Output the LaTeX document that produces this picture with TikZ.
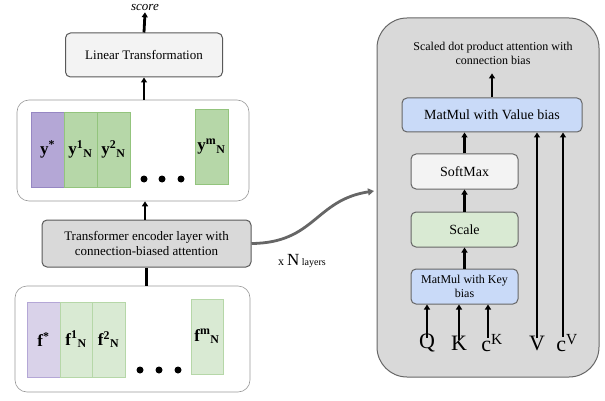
\documentclass[tikz,border=0pt]{standalone}
\usepackage{fontspec}
\setmainfont{Liberation Serif}
\usetikzlibrary{arrows.meta}
\definecolor{diagcolor0001}{RGB}{180,167,214}
\definecolor{diagcolor0002}{RGB}{150,135,195}
\definecolor{diagcolor0003}{RGB}{182,215,168}
\definecolor{diagcolor0004}{RGB}{147,196,125}
\definecolor{diagcolor0005}{RGB}{217,210,233}
\definecolor{diagcolor0006}{RGB}{217,234,211}
\definecolor{diagcolor0007}{RGB}{217,217,217}
\definecolor{diagcolor0008}{RGB}{89,89,89}
\definecolor{diagcolor0009}{RGB}{201,218,248}
\definecolor{diagcolor0010}{RGB}{243,243,243}
\definecolor{diagcolor0011}{RGB}{153,153,153}
\definecolor{diagcolor0012}{RGB}{102,102,102}

\begin{document}
\begin{tikzpicture}[yscale=-1
,dstyle0/.style={draw=diagcolor0011,line width=0.6pt,rounded corners=12pt,inner sep=0}
,dstyle1/.style={draw=diagcolor0008,line width=1pt,rounded corners=5pt,inner sep=0,align=center}
,dstyle2/.style={draw,line width=0.7pt,inner sep=0,minimum width=33pt,minimum height=75pt,font=\fontsize{17}{19}\selectfont\bfseries}
,dstyle3/.style={line width=2.8pt,-{Triangle[length=5pt,width=6pt]}}
,dstyle4/.style={inner sep=0,font=\fontsize{22}{24}\selectfont}
]
\useasboundingbox (0pt,0pt) rectangle (605pt,401pt);
% left column
\node (score) at (145pt,8pt) [inner sep=1pt,font=\fontsize{13}{15}\selectfont\itshape]{score};
\node (lin) at (144pt,55pt) [dstyle1,fill=diagcolor0010,minimum width=157pt,minimum height=44pt,font=\fontsize{13}{15}\selectfont]{Linear Transformation};
\node (ybox) at (133pt,150.5pt) [dstyle0,minimum width=232pt,minimum height=101pt]{};
\node (ystar) at (47.5pt,149.5pt) [dstyle2,fill=diagcolor0001,draw=diagcolor0002]{y\textsuperscript{*}};
\node (yone) at (80.5pt,149.5pt) [dstyle2,fill=diagcolor0003,draw=diagcolor0004]{y\textsuperscript{1}\textsubscript{N}};
\node (ytwo) at (113.5pt,149.5pt) [dstyle2,fill=diagcolor0003,draw=diagcolor0004]{y\textsuperscript{2}\textsubscript{N}};
\node (ym) at (211.5pt,146.5pt) [dstyle2,fill=diagcolor0003,draw=diagcolor0004]{y\textsuperscript{m}\textsubscript{N}};
\foreach \dx in {144,162,181}
  \fill (\dx pt,179pt) circle (3.5pt);
\node (enc) at (146.5pt,243.5pt) [dstyle1,fill=diagcolor0007,minimum width=209pt,minimum height=47pt,font=\fontsize{13}{15.5}\selectfont]{Transformer encoder layer with\\connection-biased attention};
\node (fbox) at (132.5pt,339pt) [dstyle0,minimum width=235pt,minimum height=106pt]{};
\node (fstar) at (43.5pt,339.5pt) [dstyle2,fill=diagcolor0005,draw=diagcolor0001]{f\textsuperscript{*}};
\node (fone) at (76pt,339.5pt) [dstyle2,minimum width=32pt,fill=diagcolor0006,draw=diagcolor0003]{f\textsuperscript{1}\textsubscript{N}};
\node (ftwo) at (108.5pt,339.5pt) [dstyle2,fill=diagcolor0006,draw=diagcolor0003]{f\textsuperscript{2}\textsubscript{N}};
\node (fm) at (207pt,336.5pt) [dstyle2,minimum width=32pt,fill=diagcolor0006,draw=diagcolor0003]{f\textsuperscript{m}\textsubscript{N}};
\foreach \dx in {140,159,178}
  \fill (\dx pt,370pt) circle (3.5pt);
\draw[dstyle3] (lin.north) -- (score.south);
\draw[dstyle3] (lin.south |- ybox.north) -- (lin.south);
\draw[dstyle3] (145pt,0pt |- enc.north) -- (145pt,0pt |- ybox.south);
\draw[line width=2.8pt] (enc.south |- fbox.north) -- (enc.south);
% layer arrow
\coordinate (into) at (374pt,191pt);
\draw[diagcolor0012,line width=2.8pt,-{Triangle[length=6pt,width=7pt]}] (enc.east) .. controls (315pt,243pt) and (315pt,200pt) .. (into);
\node (nlay) at (302pt,261pt) [inner sep=0]{{\fontsize{12}{14}\selectfont x }{\fontsize{17}{19}\selectfont N}{\fontsize{10}{12}\selectfont\ layers}};
% attention block
\node (att) at (488pt,197.5pt) [draw=diagcolor0012,fill=diagcolor0007,line width=1pt,rounded corners=30pt,minimum width=222pt,minimum height=359pt,inner sep=0]{};
\node (title) at (493pt,53pt) [align=center,inner sep=0,font=\fontsize{12}{14}\selectfont]{Scaled dot product attention with\\connection bias};
\node (vbias) at (492pt,115pt) [dstyle1,draw=diagcolor0012,fill=diagcolor0009,minimum width=180pt,minimum height=34pt,font=\fontsize{14}{16}\selectfont]{MatMul with Value bias};
\node (soft) at (464.5pt,171.5pt) [dstyle1,draw=diagcolor0012,fill=diagcolor0010,minimum width=107pt,minimum height=35pt,font=\fontsize{14}{16}\selectfont]{SoftMax};
\node (scale) at (464.5pt,229.5pt) [dstyle1,draw=diagcolor0012,fill=diagcolor0006,minimum width=107pt,minimum height=35pt,font=\fontsize{14}{16}\selectfont]{Scale};
\node (kbias) at (464.5pt,286.5pt) [dstyle1,draw=diagcolor0012,fill=diagcolor0009,minimum width=107pt,minimum height=35pt,font=\fontsize{12}{13.5}\selectfont]{MatMul with Key\\bias};
\node (q) at (427pt,343pt) [dstyle4]{Q};
\node (k) at (459pt,343pt) [dstyle4]{K};
\node (ck) at (492pt,343pt) [dstyle4]{c\textsuperscript{K}};
\node (v) at (537pt,343pt) [dstyle4]{V};
\node (cv) at (567pt,343pt) [dstyle4]{c\textsuperscript{V}};
\draw[dstyle3,shorten >=9pt] (vbias.north) -- (vbias.north |- title.south);
\draw[dstyle3] (soft.north) -- (soft.north |- vbias.south);
\draw[dstyle3] (scale.north) -- (soft.south);
\draw[dstyle3] (kbias.north) -- (scale.south);
\foreach \src in {q,k}
  \draw[dstyle3] ([yshift=4pt]\src.north) -- (\src.north |- kbias.south);
\draw[dstyle3] ([xshift=-4pt,yshift=4pt]ck.north) -- ([xshift=-4pt]ck.north |- kbias.south);
\draw[dstyle3] ([yshift=3pt]v.north) -- (v.north |- vbias.south);
\draw[dstyle3] ([xshift=-4pt,yshift=3pt]cv.north) -- ([xshift=-4pt]cv.north |- vbias.south);
\end{tikzpicture}
\end{document}
